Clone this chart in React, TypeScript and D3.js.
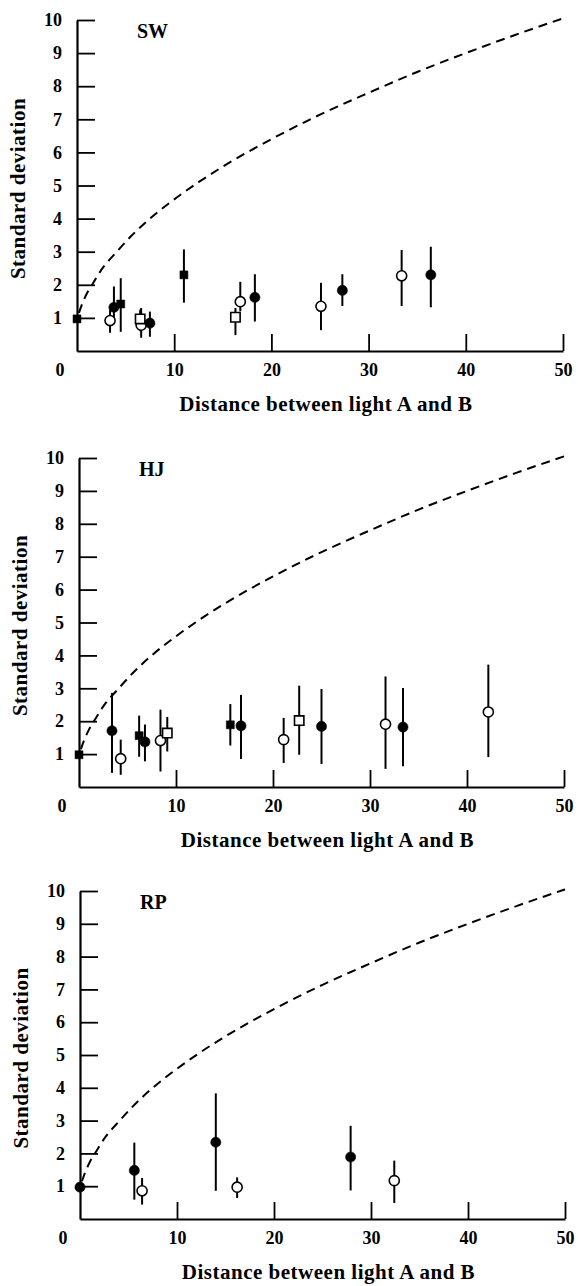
import React, { useRef, useEffect } from 'react';
import * as d3 from 'd3';

type Pt = { d: number; sd: number; lo: number; hi: number; m: string };

const panelNames = ['SW', 'HJ', 'RP'];
const xTickValues = [10, 20, 30, 40, 50];
const yTickValues = [1, 2, 3, 4, 5, 6, 7, 8, 9, 10];
const xLabel = 'Distance between light A and B';
const yLabel = 'Standard deviation';

// dashed reference curve
const curveDist = [0.2, 0.5, 1, 1.65, 2.5, 4.1, 5.5, 7.5, 10, 12.5, 15, 20, 25, 30, 35, 40, 45, 50];
const curveSd = [1.15, 1.4, 1.73, 2.05, 2.45, 3.0, 3.45, 4.0, 4.58, 5.1, 5.57, 6.4, 7.14, 7.8, 8.43, 9.0, 9.54, 10.05];

// m: fs = filled square, os = open square, fc = filled circle, oc = open circle
const swPoints: Pt[] = [
  { d: 0, sd: 0.97, lo: 0.97, hi: 0.97, m: 'fs' },
  { d: 3.4, sd: 0.92, lo: 0.55, hi: 1.25, m: 'oc' },
  { d: 3.8, sd: 1.32, lo: 0.9, hi: 1.95, m: 'fc' },
  { d: 4.5, sd: 1.42, lo: 0.58, hi: 2.2, m: 'fs' },
  { d: 6.6, sd: 0.78, lo: 0.4, hi: 1.3, m: 'oc' },
  { d: 6.5, sd: 0.97, lo: 0.6, hi: 1.25, m: 'os' },
  { d: 7.5, sd: 0.84, lo: 0.43, hi: 1.19, m: 'fc' },
  { d: 11.0, sd: 2.3, lo: 1.46, hi: 3.07, m: 'fs' },
  { d: 16.3, sd: 1.02, lo: 0.48, hi: 1.3, m: 'os' },
  { d: 16.8, sd: 1.49, lo: 1.2, hi: 2.09, m: 'oc' },
  { d: 18.3, sd: 1.62, lo: 0.89, hi: 2.32, m: 'fc' },
  { d: 25.1, sd: 1.35, lo: 0.63, hi: 2.06, m: 'oc' },
  { d: 27.3, sd: 1.83, lo: 1.36, hi: 2.32, m: 'fc' },
  { d: 33.4, sd: 2.27, lo: 1.36, hi: 3.05, m: 'oc' },
  { d: 36.4, sd: 2.3, lo: 1.32, hi: 3.15, m: 'fc' },
];

const hjPoints: Pt[] = [
  { d: 0, sd: 0.98, lo: 0.98, hi: 0.98, m: 'fs' },
  { d: 3.4, sd: 1.71, lo: 0.43, hi: 2.86, m: 'fc' },
  { d: 4.3, sd: 0.86, lo: 0.37, hi: 1.44, m: 'oc' },
  { d: 6.2, sd: 1.56, lo: 0.92, hi: 2.17, m: 'fs' },
  { d: 6.8, sd: 1.37, lo: 0.78, hi: 1.9, m: 'fc' },
  { d: 8.4, sd: 1.41, lo: 0.47, hi: 2.35, m: 'oc' },
  { d: 9.1, sd: 1.64, lo: 1.08, hi: 2.13, m: 'os' },
  { d: 15.6, sd: 1.89, lo: 1.26, hi: 2.52, m: 'fs' },
  { d: 16.7, sd: 1.86, lo: 0.85, hi: 2.8, m: 'fc' },
  { d: 21.1, sd: 1.44, lo: 0.73, hi: 2.1, m: 'oc' },
  { d: 22.7, sd: 2.02, lo: 0.98, hi: 3.08, m: 'os' },
  { d: 25.0, sd: 1.84, lo: 0.7, hi: 2.98, m: 'fc' },
  { d: 31.6, sd: 1.91, lo: 0.55, hi: 3.36, m: 'oc' },
  { d: 33.4, sd: 1.82, lo: 0.63, hi: 3.01, m: 'fc' },
  { d: 42.2, sd: 2.28, lo: 0.91, hi: 3.72, m: 'oc' },
];

const rpPoints: Pt[] = [
  { d: 0, sd: 0.97, lo: 0.97, hi: 0.97, m: 'fc' },
  { d: 5.6, sd: 1.48, lo: 0.59, hi: 2.33, m: 'fc' },
  { d: 6.4, sd: 0.86, lo: 0.44, hi: 1.25, m: 'oc' },
  { d: 14.0, sd: 2.34, lo: 0.86, hi: 3.83, m: 'fc' },
  { d: 16.2, sd: 0.97, lo: 0.64, hi: 1.27, m: 'oc' },
  { d: 27.9, sd: 1.89, lo: 0.87, hi: 2.84, m: 'fc' },
  { d: 32.4, sd: 1.17, lo: 0.49, hi: 1.78, m: 'oc' },
];

const panelPoints = [swPoints, hjPoints, rpPoints];

// pixel frame of each panel
const frames = [
  { top: 20, bottom: 351, left: 77, right: 563 },
  { top: 458, bottom: 787, left: 79, right: 564 },
  { top: 891, bottom: 1219, left: 80, right: 565 },
];

const W = 578;
const H = 1286;
const FONT = '"Liberation Serif", "Times New Roman", serif';

export default function App() {
  const svgRef = useRef<SVGSVGElement>(null);

  useEffect(() => {
    const svg = d3.select(svgRef.current);
    svg.selectAll('*').remove();

    frames.forEach((f, i) => {
      const x = d3.scaleLinear().domain([0, 50]).range([f.left, f.right]);
      const y = d3.scaleLinear().domain([0, 10]).range([f.bottom, f.top]);
      const g = svg.append('g');

      // y axis, ticks pointing inside
      const yAxis = d3.axisLeft(y).tickValues(yTickValues).tickSizeInner(-18).tickSizeOuter(0).tickPadding(15);
      const gy = g.append('g').attr('transform', `translate(${f.left},0)`).call(yAxis);
      const xAxis = d3.axisBottom(x).tickValues(xTickValues).tickSizeInner(-17).tickSizeOuter(0).tickPadding(12);
      const gx = g.append('g').attr('transform', `translate(0,${f.bottom})`).call(xAxis);

      [gy, gx].forEach(a => {
        a.select('.domain').attr('stroke', '#000').attr('stroke-width', 2.2);
        a.selectAll('.tick line').attr('stroke', '#000').attr('stroke-width', 1.8);
        a.selectAll('.tick text')
          .attr('fill', '#000')
          .style('font-family', FONT)
          .style('font-size', '18px')
          .style('font-weight', 'bold');
      });

      g.append('text')
        .attr('x', x(0) - 17)
        .attr('y', f.bottom + 12)
        .attr('dy', '0.71em')
        .attr('text-anchor', 'middle')
        .style('font-family', FONT)
        .style('font-size', '18px')
        .style('font-weight', 'bold')
        .text('0');

      // panel name
      g.append('text')
        .attr('x', f.left + 60)
        .attr('y', f.top + 18)
        .style('font-family', FONT)
        .style('font-size', '20px')
        .style('font-weight', 'bold')
        .text(panelNames[i]);

      // axis titles
      g.append('text')
        .attr('x', (f.left + f.right) / 2 + 6)
        .attr('y', f.bottom + 60)
        .attr('text-anchor', 'middle')
        .style('font-family', FONT)
        .style('font-size', '21px')
        .style('font-weight', 'bold')
        .style('letter-spacing', '0.5px')
        .text(xLabel);

      g.append('text')
        .attr('transform', `translate(${f.left - 52},${(f.top + f.bottom) / 2 + 3}) rotate(-90)`)
        .attr('text-anchor', 'middle')
        .style('font-family', FONT)
        .style('font-size', '21px')
        .style('font-weight', 'bold')
        .style('letter-spacing', '0.5px')
        .text(yLabel);

      // dashed curve
      const line = d3.line<number>()
        .x((d, k) => x(curveDist[k]))
        .y(d => y(d))
        .curve(d3.curveMonotoneX);
      g.append('path')
        .attr('d', line(curveSd))
        .attr('fill', 'none')
        .attr('stroke', '#000')
        .attr('stroke-width', 2)
        .attr('stroke-dasharray', '9,6');

      const pts = panelPoints[i];
      g.selectAll('line.err')
        .data(pts.filter(p => p.hi > p.lo))
        .join('line')
        .attr('class', 'err')
        .attr('x1', p => x(p.d))
        .attr('x2', p => x(p.d))
        .attr('y1', p => y(p.lo))
        .attr('y2', p => y(p.hi))
        .attr('stroke', '#000')
        .attr('stroke-width', 2);

      const sym = d3.symbol<Pt>()
        .type(p => (p.m === 'fc' || p.m === 'oc' ? d3.symbolCircle : d3.symbolSquare))
        .size(p => (p.m === 'fc' ? 82 : p.m === 'oc' ? 80 : p.m === 'fs' ? 64 : 88));

      g.selectAll('path.mk')
        .data(pts)
        .join('path')
        .attr('class', 'mk')
        .attr('transform', p => `translate(${x(p.d)},${y(p.sd)})`)
        .attr('d', sym)
        .attr('fill', p => (p.m[0] === 'f' ? '#000' : '#fff'))
        .attr('stroke', '#000')
        .attr('stroke-width', p => (p.m[0] === 'f' ? 0.5 : 1.6));
    });
  }, []);

  return (
    <svg
      ref={svgRef}
      width={W}
      height={H}
      style={{ position: 'absolute', left: 0, top: 0, display: 'block', background: '#fff' }}
    />
  );
}
